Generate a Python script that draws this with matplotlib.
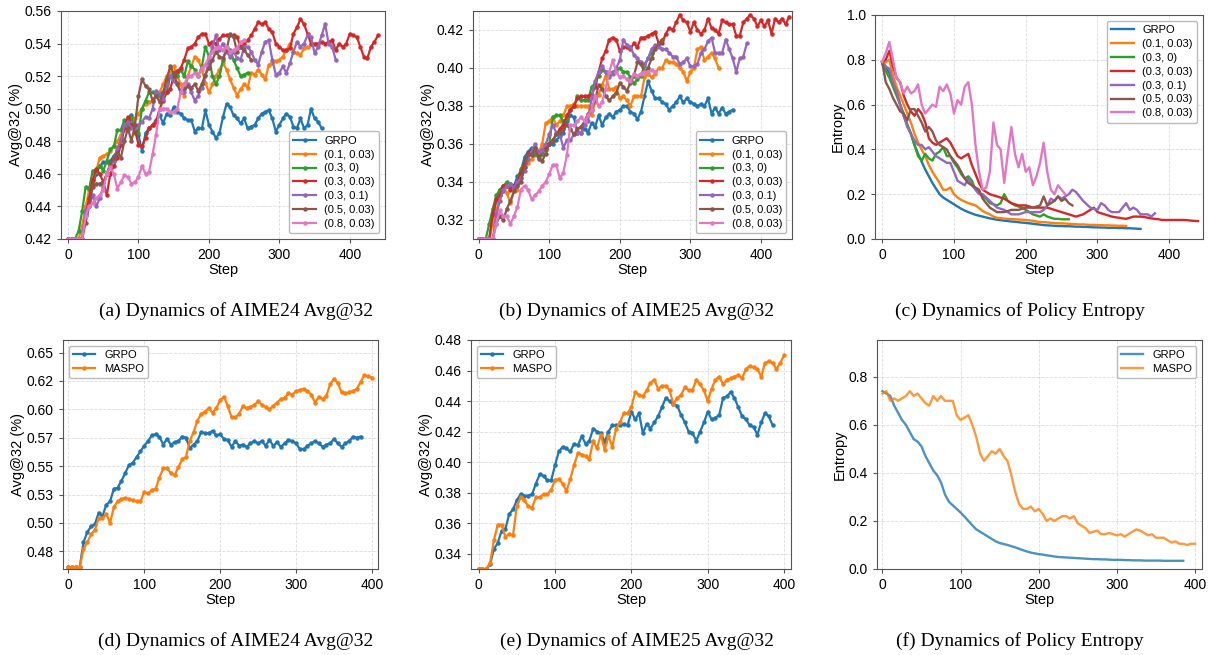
import numpy as np
import matplotlib
matplotlib.use("Agg")
import matplotlib.pyplot as plt

plt.rcParams['font.family'] = ['Liberation Sans', 'DejaVu Sans']

# values sampled every 5 training steps, starting at step 0
STEP = 5

labels7 = ["GRPO", "(0.1, 0.03)", "(0.3, 0)", "(0.3, 0.03)", "(0.3, 0.1)", "(0.5, 0.03)", "(0.8, 0.03)"]
labels2 = ["GRPO", "MASPO"]

# (a) AIME24 Avg@32, ablation runs
a_grpo = [.42, .42, .42, .42, .42, .44, .446, .453, .46, .465, .467, .467, .468, .471, .474, .482, .49, .493, .496, .49,
          .484, .474, .485, .488, .49, .493, .496, .491, .497, .496, .501, .498, .497, .494, .493, .493, .486, .488, .488, .499,
          .49, .486, .482, .485, .495, .503, .501, .496, .494, .491, .494, .488, .489, .49, .494, .497, .498, .499, .494, .486,
          .49, .494, .497, .495, .489, .488, .494, .488, .49, .5, .494, .492, .488]
a_p01 = [.42, .42, .42, .42, .428, .44, .45, .456, .462, .47, .471, .472, .474, .477, .48, .484, .487, .487, .49, .494,
         .497, .5, .503, .504, .505, .508, .51, .515, .52, .523, .526, .52, .515, .508, .52, .526, .532, .53, .524, .516,
         .51, .515, .52, .524, .528, .524, .518, .513, .508, .512, .515, .513, .522, .521, .524, .521, .518, .527, .528, .529,
         .53, .532, .536, .54, .535, .534, .533, .537, .538]
a_p30 = [.42, .42, .42, .425, .437, .452, .451, .462, .462, .465, .462, .468, .475, .477, .487, .487, .493, .489, .495, .485,
         .485, .5, .505, .51, .51, .509, .508, .509, .51, .52, .522, .52, .524, .52, .529, .526, .524, .52, .526, .538,
         .532, .52, .515, .52, .53, .537, .536, .53, .525, .52, .521, .522]
a_p33 = [.42, .42, .42, .42, .42, .435, .445, .456, .463, .46, .455, .447, .46, .465, .47, .478, .488, .495, .49, .487,
         .478, .477, .482, .488, .49, .492, .5, .505, .51, .512, .52, .523, .525, .53, .537, .538, .54, .544, .546, .546,
         .54, .541, .54, .543, .545, .545, .545, .545, .544, .538, .54, .542, .545, .549, .553, .552, .553, .549, .547, .54,
         .538, .536, .536, .537, .546, .55, .555, .552, .546, .54, .54, .54, .541, .54, .541, .542, .536, .54, .538, .54,
         .546, .545, .544, .538, .532, .531, .538, .541, .545]
a_p31 = [.42, .42, .42, .42, .42, .438, .44, .447, .44, .445, .452, .46, .466, .468, .476, .48, .49, .492, .488, .488,
         .49, .492, .495, .494, .5, .511, .509, .506, .515, .52, .517, .516, .51, .51, .515, .51, .505, .508, .513, .52,
         .53, .538, .545, .536, .54, .535, .532, .535, .531, .53, .538, .538, .535, .53, .527, .535, .541, .542, .53, .521,
         .522, .526, .522, .528, .535, .541, .538, .54, .545, .544, .534, .538, .545, .552, .54, .538, .53]
a_p53 = [.42, .42, .42, .42, .42, .43, .44, .452, .454, .454, .455, .46, .466, .47, .473, .47, .48, .488, .48, .49,
         .508, .518, .514, .512, .505, .508, .504, .51, .518, .526, .522, .515, .51, .513, .514, .513, .515, .511, .515, .521,
         .525, .53, .535, .532, .531, .536, .546, .544, .535, .538, .536, .533, .53]
a_p83 = [.42, .42, .42, .42, .42, .434, .44, .442, .445, .447, .45, .46, .464, .46, .451, .455, .459, .458, .454, .455,
         .458, .465, .46, .461, .472, .484, .5, .5, .5, .498, .498, .5, .51, .515, .52, .52, .522, .52, .525, .527,
         .532, .535, .537, .538, .536, .538, .535, .536, .537, .541, .542]

# (b) AIME25 Avg@32, ablation runs
b_grpo = [.31, .31, .31, .31, .322, .33, .336, .335, .338, .339, .338, .343, .346, .353, .356, .358, .356, .356, .355, .358,
          .36, .36, .362, .364, .366, .372, .375, .374, .366, .366, .368, .366, .371, .369, .375, .37, .374, .376, .374, .377,
          .378, .38, .38, .377, .376, .373, .377, .385, .393, .388, .384, .384, .382, .381, .378, .38, .382, .385, .382, .384,
          .382, .381, .38, .381, .38, .384, .376, .379, .376, .379, .376, .377, .378]
b_p01 = [.31, .31, .31, .31, .318, .325, .333, .338, .334, .329, .335, .336, .342, .348, .35, .352, .354, .355, .36, .371,
         .372, .374, .37, .372, .375, .38, .38, .381, .38, .38, .38, .38, .375, .382, .386, .391, .396, .389, .389, .39,
         .384, .385, .383, .38, .385, .385, .385, .395, .397, .395, .397, .4, .4, .404, .403, .403, .402, .4, .398, .393,
         .398, .4, .41, .411, .404, .406, .408, .405, .4]
b_p30 = [.31, .31, .31, .318, .326, .333, .336, .338, .34, .338, .337, .34, .347, .35, .355, .356, .355, .353, .355, .357,
         .36, .374, .375, .375, .372, .373, .378, .38, .385, .383, .383, .383, .39, .392, .396, .399, .398, .397, .398, .399,
         .4, .398, .398, .395, .392, .394, .396, .401, .405, .408, .411]
b_p33 = [.31, .31, .31, .31, .323, .331, .333, .338, .338, .336, .338, .34, .345, .35, .355, .357, .358, .355, .357, .358,
         .36, .362, .365, .368, .37, .375, .378, .38, .384, .385, .385, .385, .386, .39, .398, .405, .409, .415, .416, .415,
         .409, .411, .411, .41, .413, .411, .416, .416, .417, .418, .419, .413, .413, .418, .421, .42, .424, .428, .425, .424,
         .419, .424, .42, .418, .42, .426, .421, .42, .418, .425, .424, .423, .423, .417, .417, .424, .426, .428, .426, .422,
         .425, .422, .425, .418, .426, .424, .426, .423, .427]
b_p31 = [.31, .31, .31, .31, .31, .323, .33, .336, .338, .339, .337, .34, .342, .346, .352, .356, .36, .356, .357, .36,
         .365, .37, .366, .365, .358, .362, .362, .365, .366, .366, .37, .372, .384, .393, .398, .401, .398, .395, .397, .4,
         .404, .415, .412, .411, .407, .405, .403, .402, .405, .41, .412, .411, .41, .41, .408, .406, .406, .402, .403, .405,
         .401, .401, .402, .408, .41, .414, .416, .408, .408, .408, .415, .41, .405, .398, .405, .406, .413]
b_p53 = [.31, .31, .31, .31, .31, .318, .322, .32, .326, .33, .335, .338, .34, .348, .355, .354, .358, .352, .351, .355,
         .36, .362, .365, .366, .368, .37, .368, .365, .368, .369, .372, .376, .378, .383, .391, .389, .385, .383, .385, .387,
         .392, .39, .388, .392, .396, .403, .402, .398, .4, .405, .41, .413, .415]
b_p83 = [.31, .31, .31, .31, .31, .318, .325, .322, .322, .318, .322, .327, .336, .338, .336, .331, .333, .335, .338, .34,
         .344, .349, .349, .342, .345, .354, .37, .37, .372, .374, .372, .375, .378, .385, .38, .382, .389, .398, .404, .398,
         .395, .396, .394, .393, .397, .396, .397, .398, .398, .399, .398]

# (c) policy entropy, ablation runs
c_grpo = [.79, .77, .74, .7, .66, .6, .55, .51, .47, .42, .38, .345, .31, .28, .25, .225, .2, .185, .175, .165,
          .155, .145, .135, .127, .12, .114, .108, .104, .1, .096, .092, .089, .086, .084, .082, .08, .078, .077, .075, .073,
          .072, .07, .068, .066, .064, .062, .061, .06, .059, .058, .058, .057, .057, .056, .055, .055, .054, .054, .053, .052,
          .052, .051, .051, .05, .05, .05, .049, .049, .048, .048, .047, .046, .045]
c_p01 = [.78, .79, .8, .73, .68, .64, .6, .56, .52, .47, .43, .4, .37, .33, .3, .275, .25, .22, .22, .23,
         .2, .185, .175, .167, .16, .155, .15, .138, .125, .117, .11, .1, .095, .093, .091, .09, .089, .088, .087, .086,
         .085, .083, .081, .078, .076, .075, .074, .072, .071, .07, .07, .069, .068, .067, .066, .065, .065, .064, .063, .063,
         .062, .062, .061, .061, .06, .06, .059, .059, .058]
c_p30 = [.79, .75, .72, .68, .64, .6, .56, .51, .47, .42, .37, .35, .38, .36, .35, .38, .39, .41, .37, .37,
         .34, .32, .29, .27, .28, .26, .22, .21, .19, .18, .16, .155, .15, .16, .2, .17, .16, .15, .145, .14,
         .13, .12, .11, .105, .1, .11, .1, .095, .09, .09, .088, .088, .088]
c_p33 = [.79, .8, .84, .77, .72, .7, .64, .6, .57, .55, .58, .56, .52, .45, .43, .42, .43, .44, .45, .43,
         .4, .37, .36, .37, .38, .33, .29, .25, .22, .21, .2, .195, .19, .185, .18, .17, .16, .155, .15, .15,
         .15, .145, .14, .14, .14, .14, .14, .135, .13, .125, .12, .115, .11, .105, .1, .105, .11, .12, .13, .14,
         .12, .115, .11, .105, .1, .097, .095, .092, .09, .095, .1, .1, .1, .098, .095, .092, .09, .088, .085, .085,
         .085, .085, .085, .085, .085, .084, .082, .081, .08]
c_p31 = [.79, .77, .76, .7, .66, .6, .55, .5, .47, .44, .42, .42, .4, .41, .39, .37, .36, .35, .34, .34,
         .3, .26, .25, .24, .27, .24, .22, .2, .2, .185, .17, .155, .14, .135, .13, .12, .11, .11, .11, .115,
         .12, .12, .12, .12, .12, .13, .15, .18, .17, .19, .18, .19, .2, .22, .21, .19, .17, .155, .14, .135,
         .13, .16, .15, .13, .12, .12, .12, .14, .16, .13, .14, .13, .11, .11, .11, .1, .115]
c_p53 = [.79, .7, .67, .63, .6, .57, .56, .53, .58, .58, .55, .52, .48, .5, .48, .44, .42, .41, .4, .37,
         .35, .33, .3, .27, .25, .24, .23, .22, .18, .16, .14, .13, .12, .12, .12, .125, .13, .13, .13, .135,
         .14, .14, .14, .145, .15, .19, .15, .16, .17, .19, .17, .18, .16, .15]
c_p83 = [.79, .83, .88, .8, .72, .7, .65, .68, .65, .66, .69, .6, .56, .58, .6, .59, .68, .66, .69, .65,
         .56, .62, .6, .68, .7, .6, .42, .3, .22, .23, .3, .52, .42, .4, .25, .38, .5, .38, .32, .38,
         .3, .32, .24, .28, .34, .43, .3, .22, .2, .24, .22, .2]

# (d) AIME24 Avg@32, GRPO vs MASPO
d_grpo = [.461, .461, .461, .461, .483, .492, .497, .499, .509, .506, .516, .519, .53, .531, .537, .544, .551, .553, .558, .563,
          .568, .572, .577, .578, .576, .569, .574, .569, .571, .572, .576, .575, .566, .569, .572, .58, .579, .579, .581, .577,
          .578, .574, .573, .567, .572, .568, .569, .567, .57, .572, .57, .572, .568, .573, .568, .571, .567, .57, .573, .572,
          .57, .565, .565, .568, .57, .572, .57, .567, .569, .57, .574, .57, .567, .57, .572, .576, .575, .576]
d_maspo = [.461, .461, .461, .461, .477, .483, .49, .494, .504, .504, .508, .5, .514, .519, .521, .522, .521, .52, .519, .519,
           .527, .526, .529, .53, .54, .548, .548, .544, .542, .549, .556, .558, .572, .58, .59, .596, .598, .601, .597, .601,
           .608, .611, .603, .593, .593, .596, .603, .601, .602, .604, .607, .604, .602, .6, .603, .606, .609, .61, .614, .613,
           .616, .617, .618, .616, .613, .606, .611, .609, .612, .622, .627, .623, .615, .614, .615, .616, .618, .624, .63, .629,
           .628]

# (e) AIME25 Avg@32, GRPO vs MASPO
e_grpo = [.33, .33, .33, .333, .343, .347, .355, .356, .366, .369, .375, .379, .378, .378, .379, .386, .392, .391, .388, .388,
          .398, .407, .41, .409, .407, .412, .411, .417, .412, .414, .422, .42, .419, .413, .42, .424, .424, .424, .425, .424,
          .433, .428, .432, .419, .425, .422, .426, .43, .436, .442, .44, .438, .437, .431, .426, .42, .419, .414, .42, .426,
          .433, .428, .429, .431, .442, .443, .446, .442, .436, .43, .428, .424, .423, .418, .426, .432, .43, .424]
e_maspo = [.33, .33, .33, .334, .349, .359, .359, .351, .353, .352, .371, .377, .375, .371, .37, .377, .377, .379, .379, .382,
           .388, .389, .386, .381, .389, .398, .406, .405, .404, .402, .414, .409, .418, .408, .417, .41, .422, .426, .432, .432,
           .436, .446, .444, .443, .447, .452, .454, .448, .45, .45, .447, .438, .442, .444, .449, .447, .447, .454, .451, .447,
           .44, .448, .454, .456, .451, .454, .455, .456, .457, .455, .461, .463, .462, .461, .456, .465, .466, .465, .461, .465,
           .47]

# (f) policy entropy, GRPO vs MASPO
f_grpo = [.74, .73, .72, .68, .65, .62, .6, .57, .54, .53, .51, .47, .44, .41, .39, .36, .31, .28, .265, .25,
          .235, .218, .2, .182, .165, .155, .145, .135, .125, .115, .108, .104, .1, .095, .09, .084, .078, .073, .068, .065,
          .062, .06, .057, .055, .052, .05, .049, .048, .047, .046, .045, .044, .043, .042, .041, .041, .04, .04, .039, .038,
          .038, .038, .037, .037, .036, .036, .036, .035, .035, .035, .035, .035, .034, .034, .034, .034, .034, .034]
f_maspo = [.73, .74, .7, .71, .7, .71, .72, .74, .72, .73, .71, .69, .68, .72, .7, .72, .7, .7, .7, .64,
           .62, .63, .64, .6, .55, .48, .45, .47, .49, .48, .5, .47, .45, .39, .32, .27, .25, .25, .26, .24,
           .25, .23, .2, .21, .2, .21, .22, .22, .21, .22, .19, .18, .17, .15, .155, .16, .145, .145, .15, .145,
           .14, .145, .135, .145, .155, .165, .16, .15, .14, .145, .13, .13, .13, .12, .11, .115, .105, .105, .1, .105,
           .105]

W, H = 1210, 655
fig = plt.figure(figsize=(W / 100, H / 100), dpi=100)
colors = ["C0", "C1", "C2", "C3", "C4", "C5", "C6"]


def panel(box, series, labels, xlim, ylim, ylabel, caption, cap_x, markers, loc, alpha=1.0):
    l, r, t, b = box
    ax = fig.add_axes([l / W, 1 - b / H, (r - l) / W, (b - t) / H])
    for i, (vals, lab) in enumerate(zip(series, labels)):
        steps = np.arange(len(vals)) * STEP
        if markers:
            ax.plot(steps, vals, color=colors[i], lw=1.6, marker='o', ms=2.2, label=lab, alpha=alpha)
        else:
            ax.plot(steps, vals, color=colors[i], lw=1.7, label=lab, alpha=alpha)
    ax.set_xlim(*xlim)
    ax.set_ylim(*ylim)
    ax.set_xticks([0, 100, 200, 300, 400])
    ax.set_xlabel("Step", fontsize=10.5, labelpad=1)
    ax.set_ylabel(ylabel, fontsize=10.5, labelpad=1)
    ax.tick_params(labelsize=10, length=3, color='#555555')
    for s in ax.spines.values():
        s.set_color('#555555')
    ax.grid(True, ls='--', lw=0.6, color='#cccccc', alpha=0.7)
    ax.legend(loc=loc, fontsize=8, framealpha=1, edgecolor='#bbbbbb', borderpad=0.4, labelspacing=0.35)
    fig.text(cap_x / W, 1 - (b + 72) / H, caption, ha='center', va='center',
             family='Liberation Serif', fontsize=14)
    return ax


ax = panel((61, 385, 11, 239), [a_grpo, a_p01, a_p30, a_p33, a_p31, a_p53, a_p83], labels7,
           (-10, 450), (0.42, 0.56), "Avg@32 (%)", "(a) Dynamics of AIME24 Avg@32", 236, True, 'lower right')
ax.set_yticks(np.arange(0.42, 0.561, 0.02))

ax = panel((473, 792, 11, 239), [b_grpo, b_p01, b_p30, b_p33, b_p31, b_p53, b_p83], labels7,
           (-8, 444), (0.31, 0.43), "Avg@32 (%)", "(b) Dynamics of AIME25 Avg@32", 637, True, 'lower right')
ax.set_yticks(np.arange(0.32, 0.421, 0.02))

ax = panel((875, 1203, 15, 239), [c_grpo, c_p01, c_p30, c_p33, c_p31, c_p53, c_p83], labels7,
           (-10, 447), (0, 1.0), "Entropy", "(c) Dynamics of Policy Entropy", 1020, False, 'upper right')

d_ticks = [0.475, 0.5, 0.525, 0.55, 0.575, 0.6, 0.625, 0.65]
d_ticklabels = ["0.48", "0.50", "0.53", "0.55", "0.57", "0.60", "0.62", "0.65"]
ax = panel((63, 378, 340, 569), [d_grpo, d_maspo], labels2,
           (-7, 408), (0.4595, 0.661), "Avg@32 (%)", "(d) Dynamics of AIME24 Avg@32", 236, True, 'upper left')
ax.set_yticks(d_ticks)
ax.set_yticklabels(d_ticklabels)

ax = panel((471, 791, 340, 569), [e_grpo, e_maspo], labels2,
           (-10, 409), (0.33, 0.48), "Avg@32 (%)", "(e) Dynamics of AIME25 Avg@32", 637, True, 'upper left')
ax.set_yticks(np.arange(0.34, 0.481, 0.02))

ax = panel((877, 1202, 340, 569), [f_grpo, f_maspo], labels2,
           (-7, 409), (0, 0.953), "Entropy", "(f) Dynamics of Policy Entropy", 1020, False, 'upper right', alpha=0.8)
ax.set_yticks([0.0, 0.2, 0.4, 0.6, 0.8])

fig.savefig("out.png", dpi=100)
